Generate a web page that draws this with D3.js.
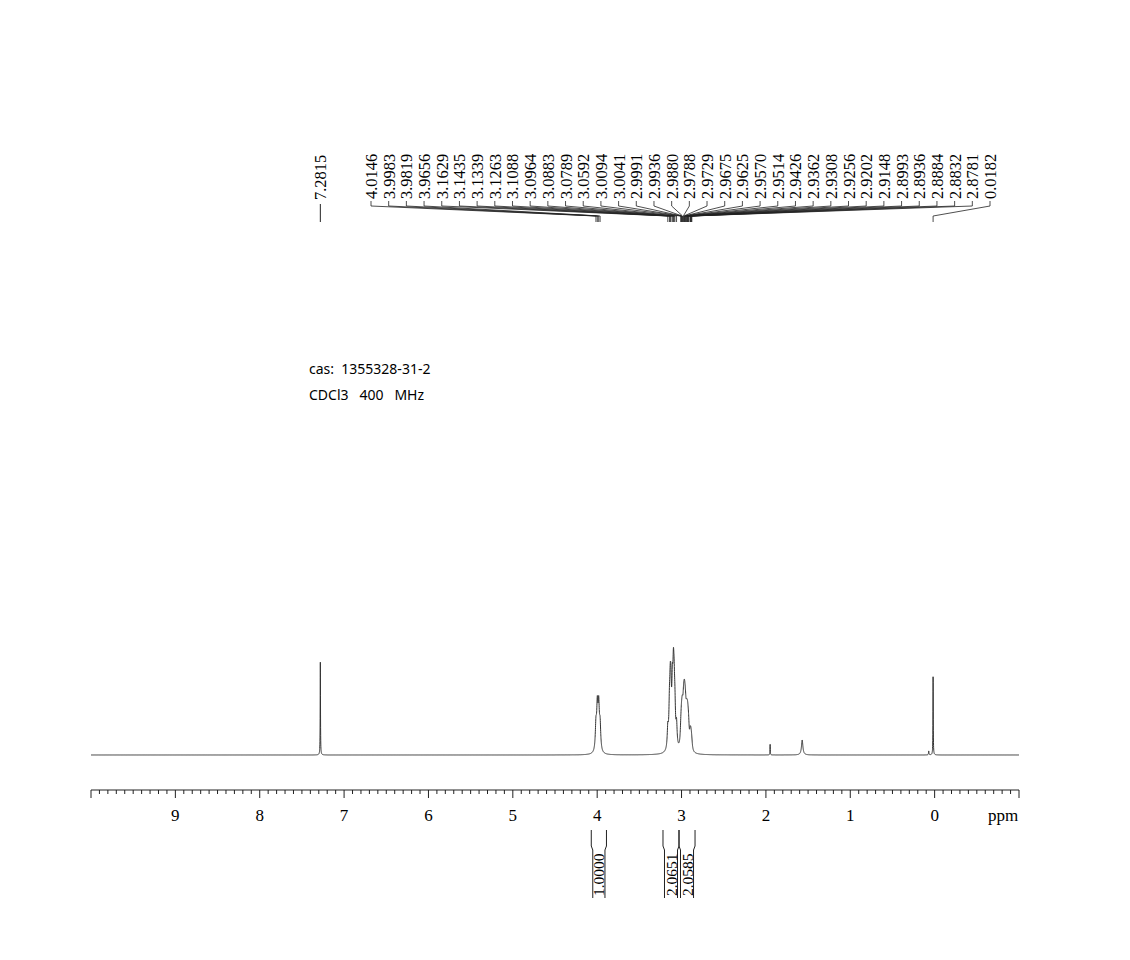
<!DOCTYPE html>
<html><head><meta charset="utf-8">
<script src="https://cdn.jsdelivr.net/npm/d3@7"></script>
<style>body{margin:0;background:#fff} text{white-space:pre}</style></head>
<body><svg id="c" width="1130" height="960"></svg>
<script>
// peak list: [ppm, intensity]
const peakPpm = [7.2815,4.0146,3.9983,3.9819,3.9656,3.1629,3.1435,3.1339,3.1263,3.1088,3.0964,3.0883,3.0789,3.0592,3.0094,3.0041,2.9991,2.9936,2.9880,2.9788,2.9729,2.9675,2.9625,2.9570,2.9514,2.9426,2.9362,2.9308,2.9256,2.9202,2.9148,2.8993,2.8936,2.8884,2.8832,2.8781,1.9500,1.5700,0.0700,0.0182];
const peakInt = [93,25,42,42,25,20,34,44,43,52,58,41,32,22,10,12,14,16,18,20,21,20,19,18,17,16,15,14,13,12,11,9,8,7,6,5,11,15,4,79];
const peakW   = [0.002,0.009,0.009,0.009,0.009,0.008,0.008,0.008,0.008,0.008,0.008,0.008,0.008,0.008,0.008,0.008,0.008,0.008,0.008,0.008,0.008,0.008,0.008,0.008,0.008,0.008,0.008,0.008,0.008,0.008,0.008,0.008,0.008,0.008,0.008,0.008,0.002,0.01,0.003,0.002];
const labelPpm = ["4.0146","3.9983","3.9819","3.9656","3.1629","3.1435","3.1339","3.1263","3.1088","3.0964","3.0883","3.0789","3.0592","3.0094","3.0041","2.9991","2.9936","2.9880","2.9788","2.9729","2.9675","2.9625","2.9570","2.9514","2.9426","2.9362","2.9308","2.9256","2.9202","2.9148","2.8993","2.8936","2.8884","2.8832","2.8781","0.0182"];
const singleLabel = "7.2815";
const integrals = [[4.07,3.89,"1.0000"],[3.22,3.03,"2.0651"],[3.03,2.84,"2.0585"]];
const tickLabels = [9,8,7,6,5,4,3,2,1,0];

const svg = d3.select("#c");
const x = d3.scaleLinear().domain([10.0,-1.0]).range([91,1019]);
const y = d3.scaleLinear().domain([0,120]).range([755,635]);

const pts = [];
for (let p = 10.0; p >= -1.0; p -= 0.0008) {
  let v = 0;
  for (let i=0;i<peakPpm.length;i++){ const d=(p-peakPpm[i])/peakW[i]; v += peakInt[i]/(1+d*d); }
  pts.push([p,v]);
}
svg.append("path").attr("d", d3.line().x(d=>x(d[0])).y(d=>y(d[1]))(pts))
  .attr("fill","none").attr("stroke","#333").attr("stroke-width",1);

const ax = svg.append("g").attr("transform","translate(0,790)");
ax.append("line").attr("x1",91).attr("x2",1019).attr("stroke","#222");
const minor = d3.range(-10,101).map(k=>k/10);
ax.selectAll("line.m").data(minor).join("line").attr("x1",d=>x(d)).attr("x2",d=>x(d))
  .attr("y1",0).attr("y2",d=>Math.abs(d-Math.round(d))<1e-6?8:4).attr("stroke","#222");
ax.selectAll("text").data(tickLabels).join("text").attr("x",d=>x(d)).attr("y",31)
  .attr("text-anchor","middle").attr("font-family","Liberation Serif").attr("font-size",17).text(d=>d);
ax.append("text").attr("x",1003).attr("y",31).attr("text-anchor","middle")
  .attr("font-family","Liberation Serif").attr("font-size",17).text("ppm");

const tf = "Liberation Serif", ts=16.5;
svg.append("text").attr("transform",`translate(${x(7.2815)+6},200) rotate(-90)`)
  .attr("font-family",tf).attr("font-size",ts).text(singleLabel);
svg.append("line").attr("x1",x(7.2815)).attr("x2",x(7.2815)).attr("y1",204).attr("y2",222).attr("stroke","#222");
const lx = d3.scaleLinear().domain([0,labelPpm.length-1]).range([371,990]);
labelPpm.forEach((s,i)=>{
  const X = lx(i), px = x(+s);
  svg.append("text").attr("transform",`translate(${X+6},199) rotate(-90)`)
    .attr("font-family",tf).attr("font-size",ts).text(s);
  svg.append("path").attr("d",`M${X},201 L${X},206 L${px},216 L${px},222`)
    .attr("fill","none").attr("stroke","#222").attr("stroke-width",0.8);
});

svg.append("text").attr("x",309).attr("y",374).attr("font-family","Noto Sans").attr("font-size",14).text("cas:  1355328-31-2");
svg.append("text").attr("x",309).attr("y",400).attr("font-family","Noto Sans").attr("font-size",14).text("CDCl3   400   MHz");

integrals.forEach(([a,b,t])=>{
  const x1=x(a), x2=x(b);
  svg.append("path").attr("d",`M${x1},830 L${x1},846 L${x1+1.5},850 L${x1+1.5},898`).attr("fill","none").attr("stroke","#222");
  svg.append("path").attr("d",`M${x2},830 L${x2},846 L${x2-1.5},850 L${x2-1.5},898`).attr("fill","none").attr("stroke","#222");
  svg.append("text").attr("transform",`translate(${(x1+x2)/2+5.5},896) rotate(-90)`)
    .attr("font-family",tf).attr("font-size",15.5).text(t);
});
</script></body></html>
